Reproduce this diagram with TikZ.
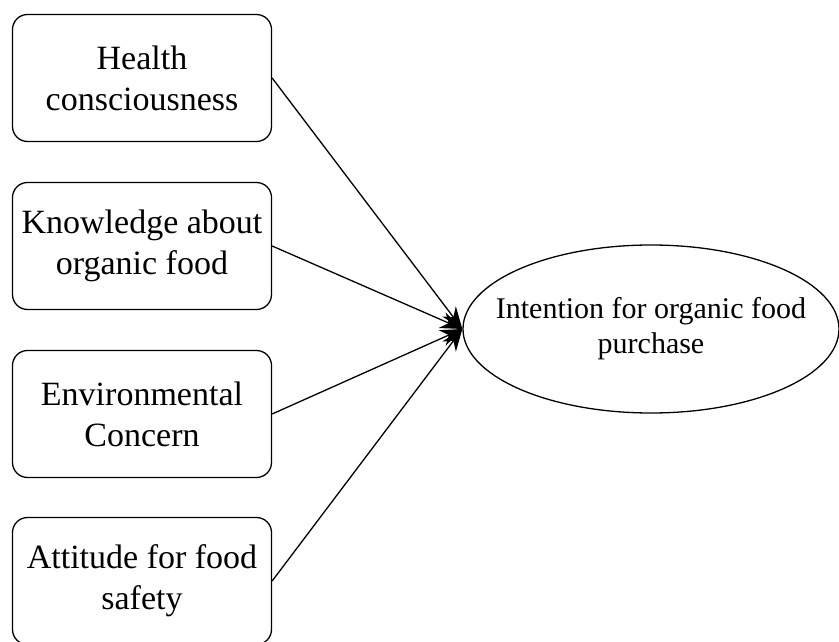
\documentclass[tikz,border=0pt]{standalone}
\usepackage{fontspec}
\setmainfont{Liberation Serif}
\usepackage{tikz}
\usetikzlibrary{positioning,arrows.meta,shapes.geometric}

\begin{document}
\begin{tikzpicture}[
    x=1pt, y=-1pt,
    factor/.style={draw, line width=1.3pt, rounded corners=15pt, minimum width=259pt, minimum height=127pt, align=center, font=\fontsize{34}{41}\selectfont, inner sep=2pt},
    outcome/.style={draw, line width=1.3pt, ellipse, minimum width=376pt, minimum height=168pt, align=center, font=\fontsize{30}{35}\selectfont, inner xsep=-60pt, inner ysep=0pt},
    link/.style={-{Stealth[length=22pt,width=17pt]}, line width=1.3pt}
]
\useasboundingbox (0,0) rectangle (839,642);

\node[factor] (health) at (142,78) {Health\\consciousness};
\node[factor] (know) at (142,246) {Knowledge about\\organic food};
\node[factor] (env) at (142,414) {Environmental\\Concern};
\node[factor] (att) at (142,581) {Attitude for food\\safety};

\node[outcome] (intent) at (651,329) {Intention for organic food\\purchase};

\draw[link] (health.east) -- (intent.west);
\draw[link] (know.east) -- (intent.west);
\draw[link] (env.east) -- (intent.west);
\draw[link] (att.east) -- (intent.west);

\end{tikzpicture}
\end{document}
